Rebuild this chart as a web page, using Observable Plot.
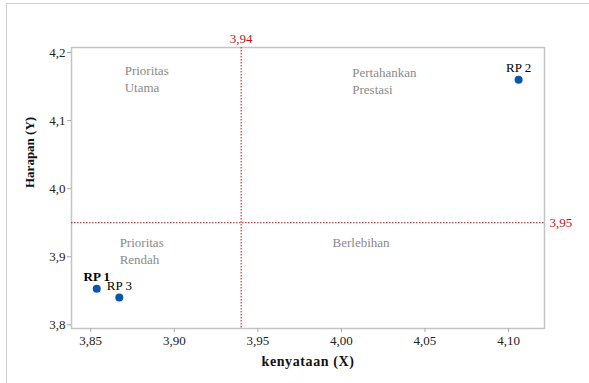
<!DOCTYPE html>
<html>
<head>
<meta charset="utf-8">
<script src="https://cdn.jsdelivr.net/npm/d3@7"></script>
<script src="https://cdn.jsdelivr.net/npm/@observablehq/plot@0.6"></script>
<style>
  html, body { margin: 0; padding: 0; background: #fff; }
  #wrap { position: relative; width: 589px; height: 383px; }
  #border { position: absolute; left: 6px; top: 3px; right: 0; bottom: 0;
            border-left: 1px solid #cfcfcf; border-top: 1px solid #cfcfcf; pointer-events: none; }
  #wrap svg, #wrap svg text, #wrap svg g { font-family: "Liberation Serif", "Times New Roman", serif !important; }
</style>
</head>
<body>
<div id="wrap"><div id="border"></div></div>
<script>
// Data
const names = ["RP 1", "RP 2", "RP 3"];
const kenyataan = [3.8536, 4.106, 3.8671];
const harapan = [3.853, 4.160, 3.840];
const xMean = 3.94;
const yMean = 3.95;
const xTicks = [3.85, 3.90, 3.95, 4.00, 4.05, 4.10];
const yTicks = [3.8, 3.9, 4.0, 4.1, 4.2];
const quadrantLabels = ["Prioritas\nUtama", "Pertahankan\nPrestasi", "Prioritas\nRendah", "Berlebihan"];
const quadrantX = [3.8703, 4.0065, 3.8673, 3.9947];
const quadrantY = [4.1628, 4.1599, 3.910, 3.9225];
const xLabel = "kenyataan (X)";
const yLabel = "Harapan (Y)";

const points = names.map((n, i) => ({name: n, x: kenyataan[i], y: harapan[i]}));
const quads = quadrantLabels.map((t, i) => ({t, x: quadrantX[i], y: quadrantY[i]}));
const fmtX = d => d.toFixed(2).replace(".", ",");
const fmtY = d => d.toFixed(1).replace(".", ",");
const red = "#c0141c";
const serif = "Liberation Serif";

const chart = Plot.plot({
  width: 589,
  height: 383,
  marginLeft: 71,
  marginTop: 47,
  marginRight: 45,
  marginBottom: 55,
  style: {fontFamily: serif, fontSize: "13px", background: "transparent", color: "#222"},
  x: {domain: [3.8385, 4.1215]},
  y: {domain: [3.7946, 4.2074]},
  marks: [
    Plot.frame({stroke: "#c4c4c4", strokeWidth: 1.5}),
    Plot.axisX({ticks: xTicks, tickFormat: fmtX, tickSize: 4, tickPadding: 3, stroke: "#aaa", fill: "#222", fontSize: 13, fontFamily: serif, label: null}),
    Plot.axisY({ticks: yTicks, tickFormat: fmtY, tickSize: 4, tickPadding: 2, stroke: "#aaa", fill: "#222", fontSize: 13, fontFamily: serif, label: null}),
    Plot.ruleX([xMean], {stroke: red, strokeDasharray: "1.5,1.5", strokeWidth: 1}),
    Plot.ruleY([yMean], {stroke: red, strokeDasharray: "1.5,1.5", strokeWidth: 1}),
    Plot.text([xMean], {x: d => d, frameAnchor: "top", lineAnchor: "middle", dy: -9, text: d => fmtX(d), fill: red, fontSize: 13, fontFamily: serif}),
    Plot.text([yMean], {y: d => d, frameAnchor: "right", dx: 5, textAnchor: "start", text: d => fmtX(d), fill: red, fontSize: 13, fontFamily: serif}),
    Plot.text(quads, {x: "x", y: "y", text: "t", textAnchor: "start", lineAnchor: "middle", lineHeight: 1.35, fill: "#8a8a8a", fontSize: 13, fontFamily: serif}),
    Plot.dot(points, {x: "x", y: "y", r: 4, fill: "#0b56a8", stroke: "none"}),
    Plot.text(points.filter(d => d.name === "RP 1"), {x: "x", y: "y", text: "name", dy: -12, fill: "#000", fontWeight: "bold", fontSize: 13, fontFamily: serif}),
    Plot.text(points.filter(d => d.name !== "RP 1"), {x: "x", y: "y", text: "name", dy: -12, fill: "#000", fontSize: 13, fontFamily: serif}),
    Plot.text([xLabel], {frameAnchor: "bottom", lineAnchor: "middle", dy: 33, fontWeight: "bold", fontSize: 14, fill: "#111", fontFamily: serif}),
    Plot.text([yLabel], {frameAnchor: "left", lineAnchor: "middle", dx: -42, rotate: -90, fontWeight: "bold", fontSize: 13, fill: "#111", fontFamily: serif})
  ]
});
document.getElementById("wrap").appendChild(chart);
chart.style.position = "absolute";
chart.style.left = "0";
chart.style.top = "0";
chart.querySelectorAll("text").forEach(t => {
  if (t.textContent === xLabel) t.style.letterSpacing = "0.6px";
});
</script>
</body>
</html>
